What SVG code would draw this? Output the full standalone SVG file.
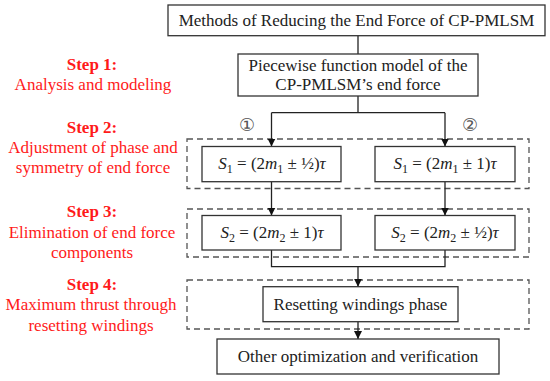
<svg xmlns="http://www.w3.org/2000/svg" width="550" height="381" viewBox="0 0 550 381">
<defs>
<marker id="ah" viewBox="0 0 8 10" refX="8" refY="5" markerWidth="8" markerHeight="10" markerUnits="userSpaceOnUse" orient="auto">
<path d="M0,1 L8,5 L0,9 Z" fill="#111"/>
</marker>
<style>
.box{fill:#fff;stroke:#333;stroke-width:1.3}
.dash{fill:none;stroke:#555;stroke-width:1.3;stroke-dasharray:6,4}
.ln{fill:none;stroke:#222;stroke-width:1.3}
.t{fill:#222;text-anchor:middle}
.r{fill:#ff1a1a;text-anchor:middle}
.rb{font-weight:bold}
.c{fill:#555;text-anchor:middle}
.i{font-style:italic}
</style>
</defs>
<rect width="550" height="381" fill="#fff"/>

<g id="steps" font-family="Liberation Serif" font-size="17">
<text class="r rb" x="92" y="70">Step 1:</text>
<text class="r" x="93" y="90">Analysis and modeling</text>
<text class="r rb" x="92" y="133">Step 2:</text>
<text class="r" x="93" y="153">Adjustment of phase and</text>
<text class="r" x="93" y="173">symmetry of end force</text>
<text class="r rb" x="92" y="217">Step 3:</text>
<text class="r" x="92" y="238">Elimination of end force</text>
<text class="r" x="92" y="258">components</text>
<text class="r rb" x="92" y="290">Step 4:</text>
<text class="r" x="91" y="310">Maximum thrust through</text>
<text class="r" x="91" y="331">resetting windings</text>
</g>

<g id="groups">
<rect class="dash" x="187" y="139" width="342" height="49.5"/>
<rect class="dash" x="187" y="209" width="342" height="48"/>
<rect class="dash" x="187" y="280" width="342" height="49"/>
</g>

<g id="connectors">
<path class="ln" d="M358,35.7 V54"/>
<path class="ln" d="M358,96 V112.7 M271.5,112.7 H445"/>
<path class="ln" d="M271.5,112.7 V146.5" marker-end="url(#ah)"/>
<path class="ln" d="M445,112.7 V146.5" marker-end="url(#ah)"/>
<path class="ln" d="M271.5,181.7 V215.5" marker-end="url(#ah)"/>
<path class="ln" d="M445,181.7 V215.5" marker-end="url(#ah)"/>
<path class="ln" d="M271.5,250 V266.7 H445 V250"/>
<path class="ln" d="M358,266.7 V286.7" marker-end="url(#ah)"/>
<path class="ln" d="M358,321.7 V339" marker-end="url(#ah)"/>
</g>

<g id="nodes" font-family="Liberation Serif" font-size="17">
<g id="n-top">
<rect class="box" x="168" y="5" width="377" height="30.7"/>
<text class="t" x="356.5" y="26">Methods of Reducing the End Force of CP-PMLSM</text>
</g>
<g id="n-model">
<rect class="box" x="238" y="54" width="240" height="42"/>
<text class="t" x="358" y="71">Piecewise function model of the</text>
<text class="t" x="358" y="90">CP-PMLSM’s end force</text>
</g>
<g id="label-1"><text class="c" x="247" y="131" font-family="DejaVu Sans" font-size="18">①</text></g>
<g id="label-2"><text class="c" x="470" y="131" font-family="DejaVu Sans" font-size="18">②</text></g>
<g id="n-s1a">
<rect class="box" x="202" y="146.5" width="139" height="35.2"/>
<text class="t" x="272" y="169"><tspan class="i">S</tspan><tspan font-size="12" dy="3.5">1</tspan><tspan dy="-3.5"> = (2</tspan><tspan class="i">m</tspan><tspan font-size="12" dy="3.5">1</tspan><tspan dy="-3.5"> ± ½)</tspan><tspan class="i">τ</tspan></text>
</g>
<g id="n-s1b">
<rect class="box" x="375" y="146.5" width="140" height="35.2"/>
<text class="t" x="445" y="169"><tspan class="i">S</tspan><tspan font-size="12" dy="3.5">1</tspan><tspan dy="-3.5"> = (2</tspan><tspan class="i">m</tspan><tspan font-size="12" dy="3.5">1</tspan><tspan dy="-3.5"> ± 1)</tspan><tspan class="i">τ</tspan></text>
</g>
<g id="n-s2a">
<rect class="box" x="202" y="215.5" width="139" height="34.5"/>
<text class="t" x="272" y="238"><tspan class="i">S</tspan><tspan font-size="12" dy="3.5">2</tspan><tspan dy="-3.5"> = (2</tspan><tspan class="i">m</tspan><tspan font-size="12" dy="3.5">2</tspan><tspan dy="-3.5"> ± 1)</tspan><tspan class="i">τ</tspan></text>
</g>
<g id="n-s2b">
<rect class="box" x="375" y="215.5" width="140" height="34.5"/>
<text class="t" x="445" y="238"><tspan class="i">S</tspan><tspan font-size="12" dy="3.5">2</tspan><tspan dy="-3.5"> = (2</tspan><tspan class="i">m</tspan><tspan font-size="12" dy="3.5">2</tspan><tspan dy="-3.5"> ± ½)</tspan><tspan class="i">τ</tspan></text>
</g>
<g id="n-reset">
<rect class="box" x="263" y="286.7" width="195" height="35"/>
<text class="t" x="360.5" y="310">Resetting windings phase</text>
</g>
<g id="n-other">
<rect class="box" x="217" y="339" width="282" height="35"/>
<text class="t" x="358" y="362">Other optimization and verification</text>
</g>
</g>
</svg>
